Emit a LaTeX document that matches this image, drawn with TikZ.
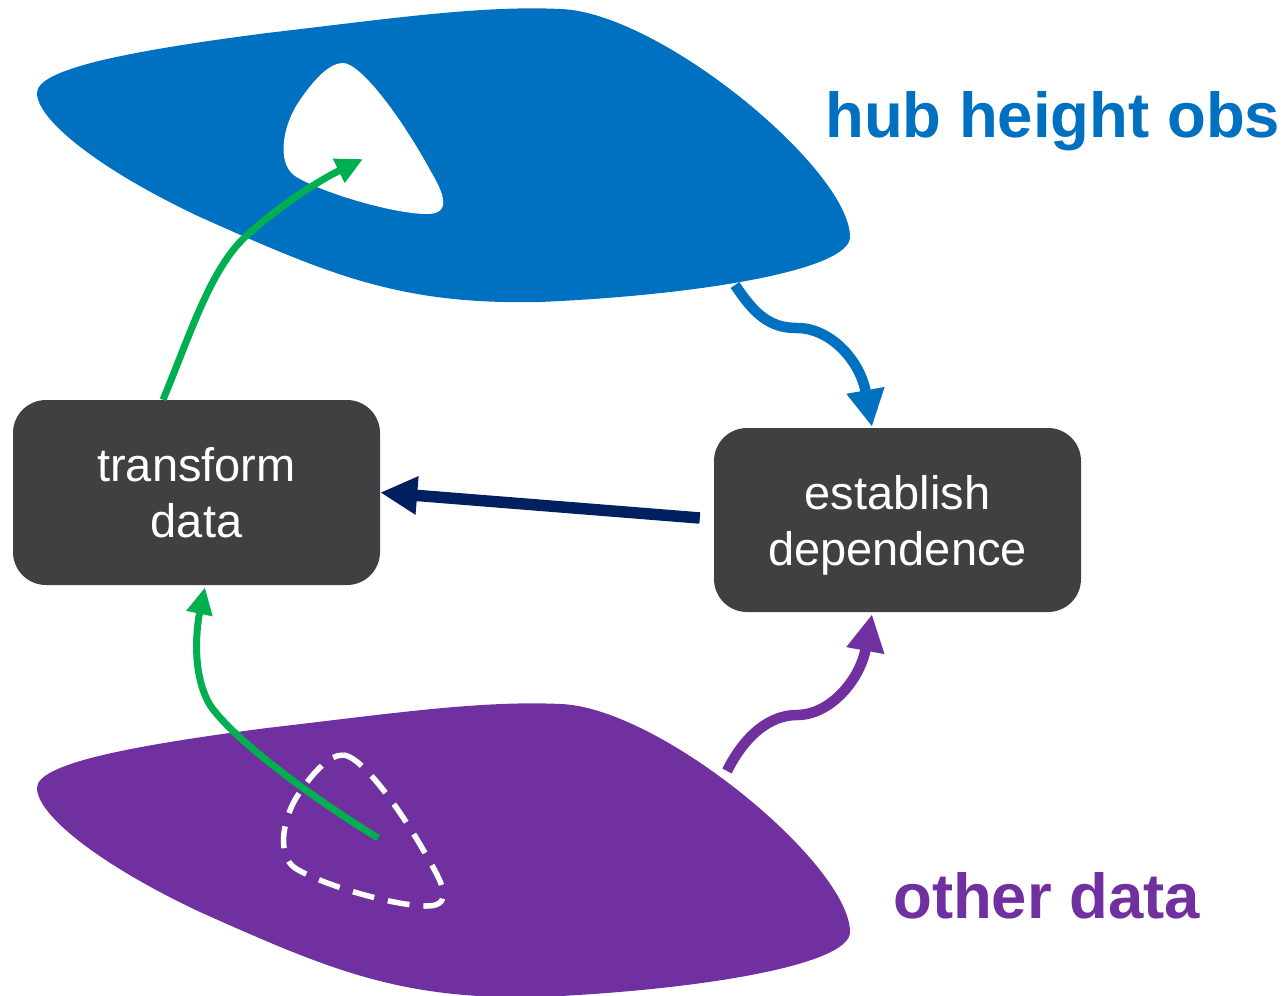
\documentclass[tikz,border=0pt]{standalone}
\usepackage{fontspec}
\setmainfont{Liberation Sans}
\usetikzlibrary{arrows.meta,calc}
\definecolor{hubblue}{HTML}{0070C0}
\definecolor{otherpurple}{HTML}{7030A0}
\definecolor{flowgreen}{HTML}{00B050}
\definecolor{flownavy}{HTML}{002060}
\definecolor{boxgray}{HTML}{404042}
\tikzset{
  procbox/.style={fill=boxgray, rounded corners=33pt, minimum width=367pt, minimum height=185pt,
    text=white, align=center, inner sep=0pt, text depth=0pt,
    font=\fontsize{47}{56}\selectfont},
  biglabel/.style={font=\bfseries\fontsize{63.5}{70}\selectfont, anchor=base west, inner sep=0pt},
  greenarrow/.style={draw=flowgreen, line width=7pt, -{Triangle[length=27pt,width=25pt]}},
  thickarrow/.style={line width=10.5pt, -{Triangle[length=37pt,width=36pt]}},
}
\begin{document}
\begin{tikzpicture}[x=1pt,y=-1pt]
\useasboundingbox (0,0) rectangle (1288,996);
% blobs
\fill[hubblue] (37,93) .. controls (37,70) and (120,52) .. (267,33)
  .. controls (380,20) and (480,5) .. (560,9)
  .. controls (660,12) and (850,170) .. (850,237)
  .. controls (850,270) and (700,295) .. (540,302)
  .. controls (400,305) and (330,275) .. (200,217)
  .. controls (100,170) and (37,120) .. (37,93) -- cycle;
\fill[white] (343,63) .. controls (360,63) and (400,115) .. (430,170)
  .. controls (445,195) and (452,215) .. (425,214)
  .. controls (390,213) and (320,192) .. (295,176)
  .. controls (275,162) and (284,122) .. (300,100)
  .. controls (315,78) and (330,63) .. (343,63) -- cycle;
\begin{scope}[yshift=-695pt]
\fill[otherpurple] (37,93) .. controls (37,70) and (120,52) .. (267,33)
  .. controls (380,20) and (480,5) .. (560,9)
  .. controls (660,12) and (850,170) .. (850,237)
  .. controls (850,270) and (700,295) .. (540,302)
  .. controls (400,305) and (330,275) .. (200,217)
  .. controls (100,170) and (37,120) .. (37,93) -- cycle;
\end{scope}
\begin{scope}[yshift=-692pt]
\draw[white, line width=5.5pt, dash pattern=on 22pt off 14pt] (343,63) .. controls (360,63) and (400,115) .. (430,170)
  .. controls (445,195) and (452,215) .. (425,214)
  .. controls (390,213) and (320,192) .. (295,176)
  .. controls (275,162) and (284,122) .. (300,100)
  .. controls (315,78) and (330,63) .. (343,63) -- cycle;
\end{scope}
% labels
\node[biglabel, text=hubblue] (hublbl) at (825,137) {hub height obs};
\node[biglabel, text=otherpurple] (otherlbl) at (893,918) {other data};
% boxes
\node[procbox] (t) at (196.5,492.5) {transform\\data};
\node[procbox, minimum height=184pt] (e) at (897.5,520) {establish\\dependence};
% connector end points
\coordinate (holetip) at (363,159);
\coordinate (otherstart) at (378,838);
\coordinate (hubstart) at (735,285);
\coordinate (purplestart) at (727,771);
% connectors
\draw[greenarrow] ($(t.north)+(-33.5,0)$) .. controls (190,335) and (210,270) .. (245,237)
  .. controls (280,205) and (320,180) .. (holetip);
\draw[greenarrow] (otherstart) .. controls (300,790) and (230,735) .. (210,705)
  .. controls (192,675) and (196,630) .. ($(t.south)+(8.5,2)$);
\draw[thickarrow, draw=hubblue] (hubstart) .. controls (755,315) and (770,328) .. (797,328)
  .. controls (830,328) and (860,360) .. ($(e.north)+(-25.5,-1)$);
\draw[thickarrow, draw=otherpurple] (purplestart) .. controls (745,735) and (770,715) .. (797,715)
  .. controls (830,715) and (860,680) .. ($(e.south)+(-25.5,2)$);
\draw[thickarrow, line width=11.5pt, draw=flownavy] ($(e.west)+(-14,-2)$) -- (t.east);
\end{tikzpicture}
\end{document}
